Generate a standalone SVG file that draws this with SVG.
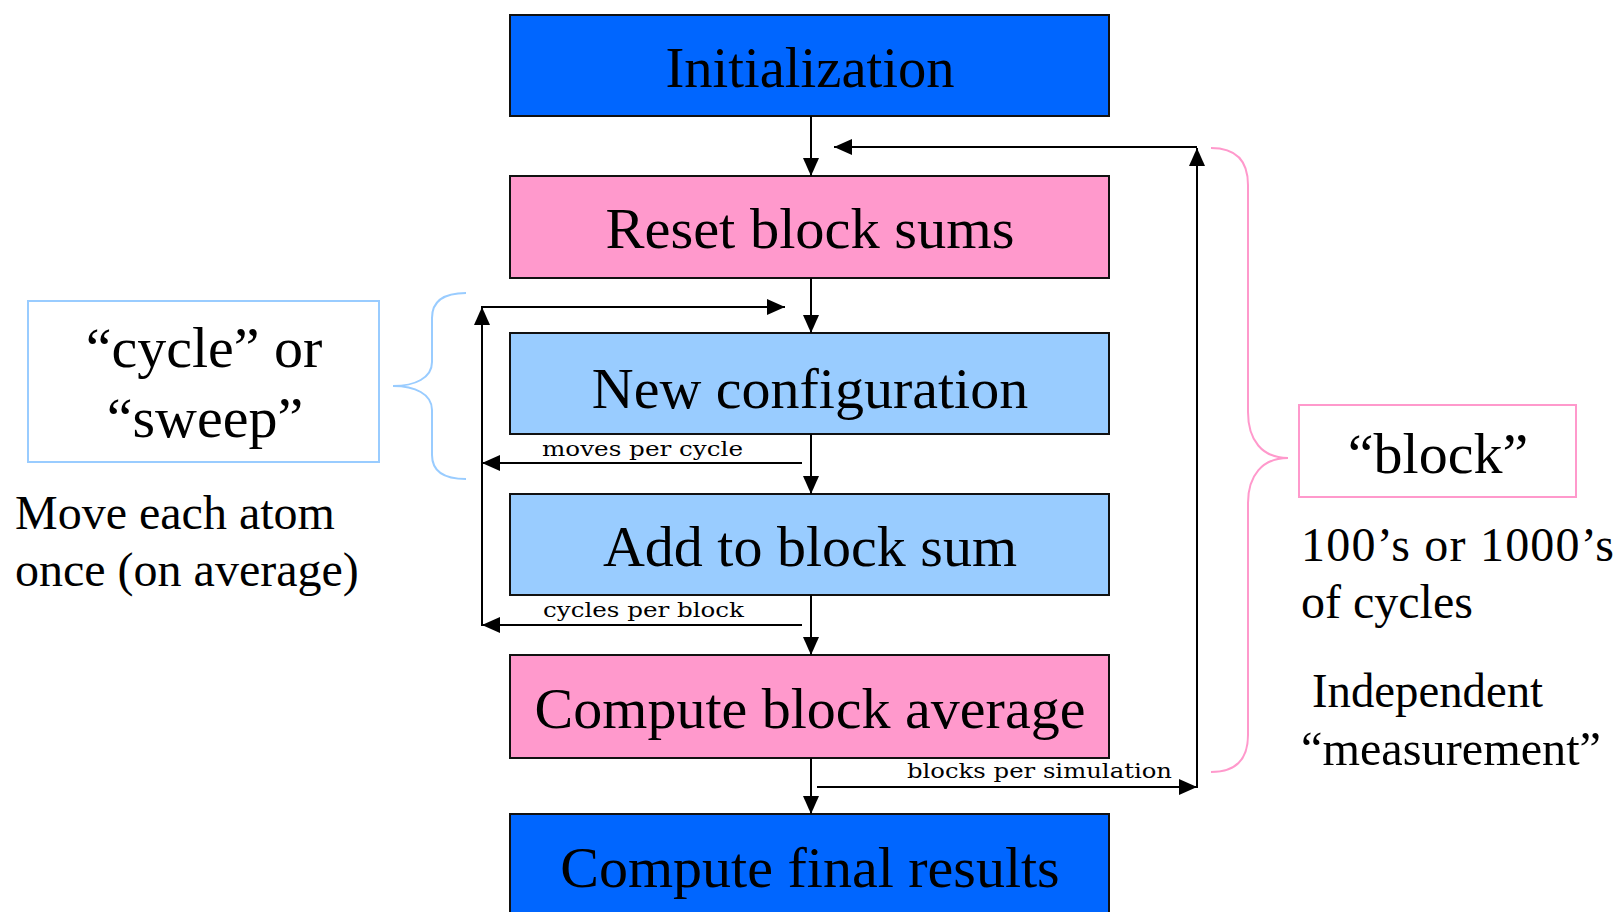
<svg xmlns="http://www.w3.org/2000/svg" width="1622" height="912" viewBox="0 0 1622 912">
  <defs>
    <marker id="arrow" viewBox="0 0 18 16" refX="18" refY="8" markerWidth="18" markerHeight="16" markerUnits="userSpaceOnUse" orient="auto">
      <path d="M0,0 L18,8 L0,16 Z" fill="#000"/>
    </marker>
    <style>
      .box { stroke: #111; stroke-width: 2; }
      .dark { fill: #0066FF; }
      .pink { fill: #FF99CC; }
      .light { fill: #99CCFF; }
      .big { font-family: "Liberation Serif", "Times New Roman", serif; font-size: 58px; fill: #000; text-anchor: middle; }
      .note { font-family: "Liberation Serif", "Times New Roman", serif; font-size: 48px; fill: #000; }
      .small { font-family: "DejaVu Serif", "Liberation Serif", serif; font-size: 20px; fill: #000; }
      .flow { fill: none; stroke: #000; stroke-width: 2; }
      .brace { fill: none; stroke-width: 2; }
    </style>
  </defs>
  <rect width="1622" height="912" fill="#fff"/>

  <!-- main flow boxes -->
  <g id="init">
    <rect class="box dark" x="510" y="15" width="599" height="101"/>
    <text class="big" x="810" y="87" textLength="289" lengthAdjust="spacingAndGlyphs">Initialization</text>
  </g>
  <g id="reset">
    <rect class="box pink" x="510" y="176" width="599" height="102"/>
    <text class="big" x="810" y="248" textLength="409" lengthAdjust="spacingAndGlyphs">Reset block sums</text>
  </g>
  <g id="newconfig">
    <rect class="box light" x="510" y="333" width="599" height="101"/>
    <text class="big" x="810" y="408">New configuration</text>
  </g>
  <g id="addsum">
    <rect class="box light" x="510" y="494" width="599" height="101"/>
    <text class="big" x="810" y="566">Add to block sum</text>
  </g>
  <g id="blockavg">
    <rect class="box pink" x="510" y="655" width="599" height="103"/>
    <text class="big" x="810" y="728">Compute block average</text>
  </g>
  <g id="final">
    <rect class="box dark" x="510" y="814" width="599" height="110"/>
    <text class="big" x="810" y="887">Compute final results</text>
  </g>

  <!-- side annotations -->
  <g id="cycle-note">
    <rect x="28" y="301" width="351" height="161" fill="none" stroke="#99CCFF" stroke-width="2"/>
    <text class="big" x="204" y="367">“cycle” or</text>
    <text class="big" x="205" y="437">“sweep”</text>
    <path class="brace" stroke="#99CCFF" d="M466,293 C445,293 432,300 432,318 L432,362 C432,378 415,386 393,386 C415,386 432,394 432,410 L432,455 C432,472 445,479 466,479"/>
    <text class="note" x="15" y="529">Move each atom</text>
    <text class="note" x="15" y="586">once (on average)</text>
  </g>
  <g id="block-note">
    <rect x="1299" y="405" width="277" height="92" fill="none" stroke="#FF99CC" stroke-width="2"/>
    <text class="big" x="1438" y="473">“block”</text>
    <path class="brace" stroke="#FF99CC" d="M1211,148 C1236,148 1248,160 1248,185 L1248,412 C1248,440 1262,458 1288,458 C1262,458 1248,476 1248,503 L1248,735 C1248,760 1236,772 1211,772"/>
    <text class="note" x="1301" y="561" textLength="313" lengthAdjust="spacing">100’s or 1000’s</text>
    <text class="note" x="1301" y="618">of cycles</text>
    <text class="note" x="1312" y="707" textLength="231" lengthAdjust="spacingAndGlyphs">Independent</text>
    <text class="note" x="1301" y="765" textLength="300" lengthAdjust="spacingAndGlyphs">“measurement”</text>
  </g>

  <!-- connectors -->
  <g id="connectors">
    <line class="flow" x1="811" y1="116" x2="811" y2="176" marker-end="url(#arrow)"/>
    <line class="flow" x1="811" y1="278" x2="811" y2="333" marker-end="url(#arrow)"/>
    <line class="flow" x1="811" y1="434" x2="811" y2="494" marker-end="url(#arrow)"/>
    <line class="flow" x1="811" y1="595" x2="811" y2="655" marker-end="url(#arrow)"/>
    <line class="flow" x1="811" y1="758" x2="811" y2="814" marker-end="url(#arrow)"/>

    <!-- inner loop: moves / cycles -->
    <line class="flow" x1="802" y1="463" x2="482" y2="463" marker-end="url(#arrow)"/>
    <line class="flow" x1="802" y1="625" x2="482" y2="625" marker-end="url(#arrow)"/>
    <line class="flow" x1="482" y1="626" x2="482" y2="307" marker-end="url(#arrow)"/>
    <line class="flow" x1="481" y1="307" x2="785" y2="307" marker-end="url(#arrow)"/>

    <!-- outer loop: blocks -->
    <line class="flow" x1="817" y1="787" x2="1197" y2="787" marker-end="url(#arrow)"/>
    <line class="flow" x1="1197" y1="788" x2="1197" y2="148" marker-end="url(#arrow)"/>
    <line class="flow" x1="1197" y1="147" x2="834" y2="147" marker-end="url(#arrow)"/>

    <text class="small" x="542" y="456" textLength="201" lengthAdjust="spacingAndGlyphs">moves per cycle</text>
    <text class="small" x="543" y="617" textLength="201" lengthAdjust="spacingAndGlyphs">cycles per block</text>
    <text class="small" x="907" y="778" textLength="265" lengthAdjust="spacingAndGlyphs">blocks per simulation</text>
  </g>
</svg>
